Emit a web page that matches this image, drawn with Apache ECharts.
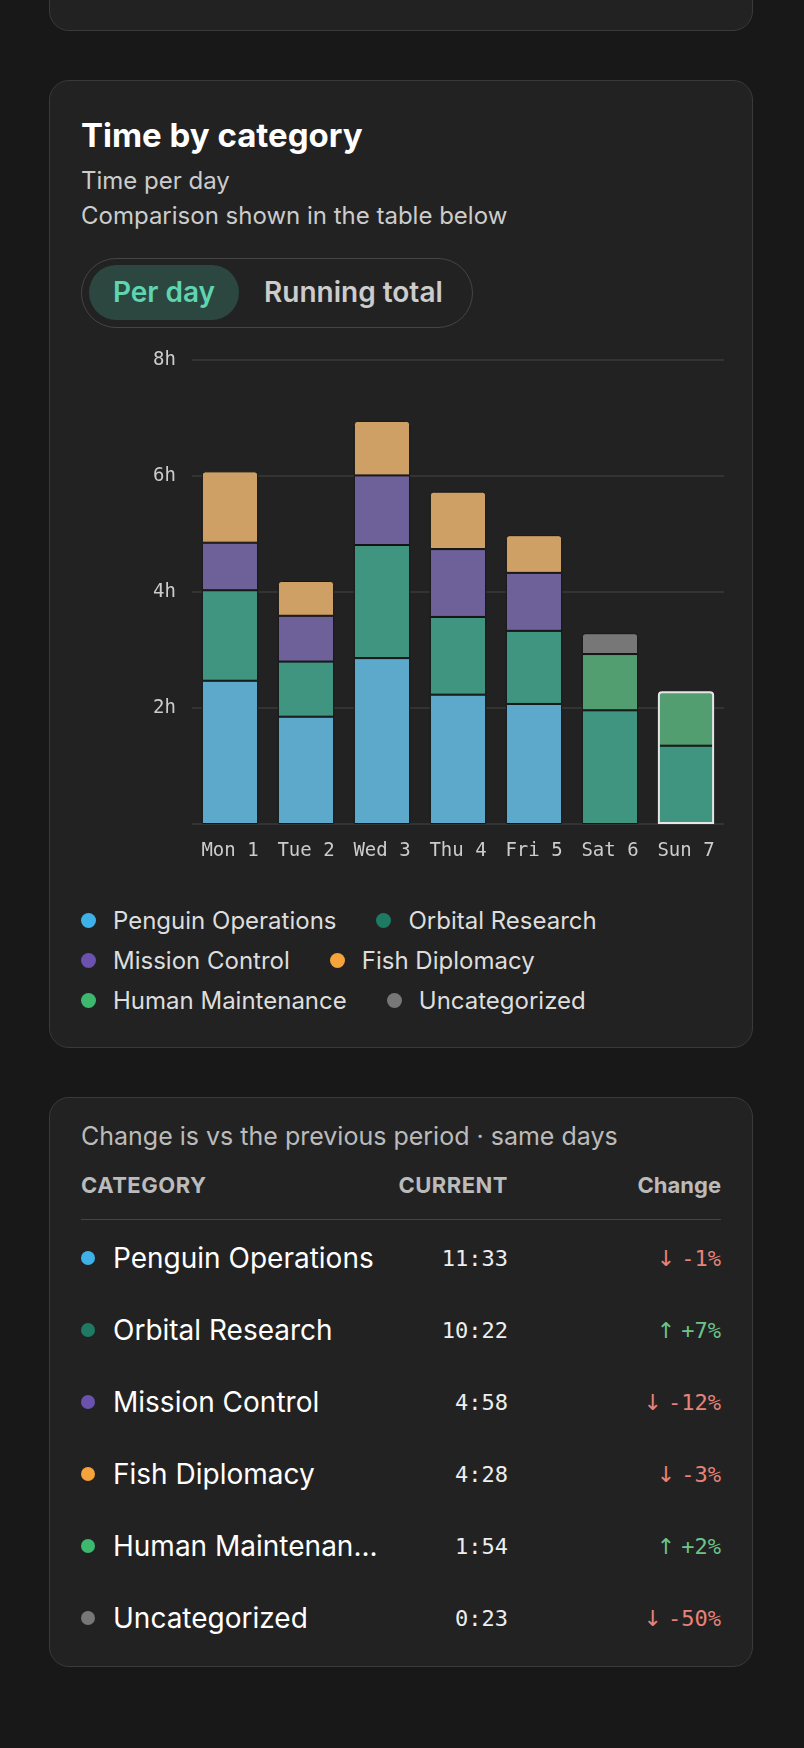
<!DOCTYPE html>
<html><head><meta charset="utf-8">
<script src="https://cdn.jsdelivr.net/npm/echarts@6/dist/echarts.min.js"></script>
<style>
body{margin:0;background:#181818;width:804px;height:1748px;position:relative;font-family:Inter,"Noto Sans",sans-serif;overflow:hidden}
.card{position:absolute;left:49px;width:704px;background:#222;border:1.5px solid #3a3a3a;border-radius:20px;box-sizing:border-box}
.abs{position:absolute}
.mono{font-family:"DejaVu Sans Mono",monospace}
.row{position:absolute;left:31px;right:31px;height:40px;display:flex;align-items:center}
</style></head><body>
<div class="card" style="top:-30px;height:61px"></div>
<div class="card" style="top:80px;height:968px">
  <div class="abs" style="left:31px;top:34px;font-size:33px;font-weight:700;color:#fff">Time by category</div>
  <div class="abs" style="left:31px;top:85px;font-size:24px;color:#ccc">Time per day</div>
  <div class="abs" style="left:31px;top:120px;font-size:24px;color:#ccc">Comparison shown in the table below</div>
  <div class="abs" style="left:31px;top:177px;width:392px;height:70px;border:1.5px solid #454545;border-radius:36px;box-sizing:border-box">
    <div class="abs" style="left:7px;top:6px;width:150px;height:55px;background:#2b4740;border-radius:28px;color:#5fd4b0;font-size:28px;font-weight:600;text-align:center;line-height:55px">Per day</div>
    <div class="abs" style="left:182px;top:6px;height:55px;line-height:55px;color:#ccc;font-size:28px;font-weight:600">Running total</div>
  </div>
  <div id="legend" class="abs" style="left:31px;top:825px;width:600px;display:flex;flex-wrap:wrap;column-gap:40px;row-gap:11px;font-size:24px;color:#ddd"></div>
</div>
<div id="chart" class="abs" style="left:49px;top:330px;width:706px;height:550px"></div>
<div class="card" style="top:1097px;height:570px">
  <div class="abs" style="left:31px;top:23px;font-size:25px;color:#bbb">Change is vs the previous period · same days</div>
  <div class="abs" style="left:31px;top:74px;font-size:22px;font-weight:700;color:#bbb;letter-spacing:0.5px">CATEGORY</div>
  <div class="abs" style="right:244px;top:74px;font-size:22px;font-weight:700;color:#bbb;letter-spacing:0.5px">CURRENT</div>
  <div class="abs" style="right:31px;top:74px;font-size:22px;font-weight:700;color:#bbb">Change</div>
  <div class="abs" style="left:31px;right:31px;top:121px;border-top:1.5px solid #444"></div>
  <div id="rows"></div>
</div>
<script>
const categories=["Mon 1","Tue 2","Wed 3","Thu 4","Fri 5","Sat 6","Sun 7"];
const seriesNames=["Penguin Operations","Orbital Research","Mission Control","Fish Diplomacy","Human Maintenance","Uncategorized"];
const penguin=[2.47,1.85,2.86,2.23,2.07,null,null];
const orbital=[1.56,0.95,1.95,1.34,1.26,1.96,1.35];
const mission=[0.82,0.79,1.20,1.17,1.00,null,null];
const fish=[1.23,0.60,0.94,0.99,0.65,null,null];
const human=[null,null,null,null,null,0.97,0.94];
const uncategorized=[null,null,null,null,null,0.36,null];
const yTicks=[0,2,4,6,8];
const tableNames=["Penguin Operations","Orbital Research","Mission Control","Fish Diplomacy","Human Maintenan...","Uncategorized"];
const tableCurrent=["11:33","10:22","4:58","4:28","1:54","0:23"];
const tableChange=["-1%","+7%","-12%","-3%","+2%","-50%"];
const barColors=["#5ca9cc","#3f9580","#6e6098","#cfa066","#529e70","#777777"];
const dotColors=["#3eb2e8","#1f7a63","#6a52ae","#f5a33a","#3cb96e","#777777"];
const values=[penguin,orbital,mission,fish,human,uncategorized];

const chart=echarts.init(document.getElementById('chart'));
function topIdx(d){let t=-1;values.forEach((v,i)=>{if(v[d]!=null)t=i;});return t;}
const series=values.map((v,i)=>({
  name:seriesNames[i],type:'bar',stack:'t',barWidth:'74%',
  data:v.map((x,d)=>x==null?null:{value:x,itemStyle:{borderRadius:topIdx(d)===i?[3,3,0,0]:0}}),
  itemStyle:{color:barColors[i],borderColor:'#151515',borderWidth:1}
}));
const totals=categories.map((c,d)=>values.reduce((s,v)=>s+(v[d]||0),0));
series.push({type:'bar',barGap:'-100%',barWidth:'74%',z:5,silent:true,
  data:totals.map((t,d)=>d===6?t:null),
  itemStyle:{color:'transparent',borderColor:'#e6e6e6',borderWidth:2,borderRadius:[3,3,0,0]}});
chart.setOption({
  animation:false,
  grid:{left:143,right:31,top:30,bottom:56},
  xAxis:{type:'category',data:categories,axisLine:{show:false},axisTick:{show:false},
    axisLabel:{interval:0,color:'#ccc',fontFamily:'DejaVu Sans Mono',fontSize:19,margin:18}},
  yAxis:{type:'value',min:yTicks[0],max:yTicks[yTicks.length-1],interval:2,
    axisLabel:{color:'#ccc',fontFamily:'DejaVu Sans Mono',fontSize:19,margin:16,formatter:v=>v===0?'':v+'h'},
    splitLine:{lineStyle:{color:'#3a3a3a',width:1.5}}},
  series
});
const lg=document.getElementById('legend');
seriesNames.forEach((n,i)=>{lg.innerHTML+=`<div style="display:flex;align-items:center"><span style="width:15px;height:15px;border-radius:50%;background:${dotColors[i]};margin-right:17px;display:inline-block"></span>${n}</div>`;});
const rows=document.getElementById('rows');
tableNames.forEach((n,i)=>{
  const c=160+i*72;const up=tableChange[i][0]==='+';const col=up?'#6cc48a':'#e8837a';
  rows.innerHTML+=`<div class="row" style="top:${c-20}px">
  <span style="width:14px;height:14px;border-radius:50%;background:${dotColors[i]};flex:none"></span>
  <span style="margin-left:18px;font-size:28px;color:#fff;flex:1">${n}</span>
  <span class="mono" style="font-size:22px;color:#eee;width:100px;text-align:right">${tableCurrent[i]}</span>
  <span style="width:213px;text-align:right;color:${col};font-size:22px"><span style="font-size:22px;font-family:'DejaVu Sans'">${up?'↑':'↓'}</span> <span class="mono">${tableChange[i]}</span></span>
  </div>`;
});
</script>
</body></html>
